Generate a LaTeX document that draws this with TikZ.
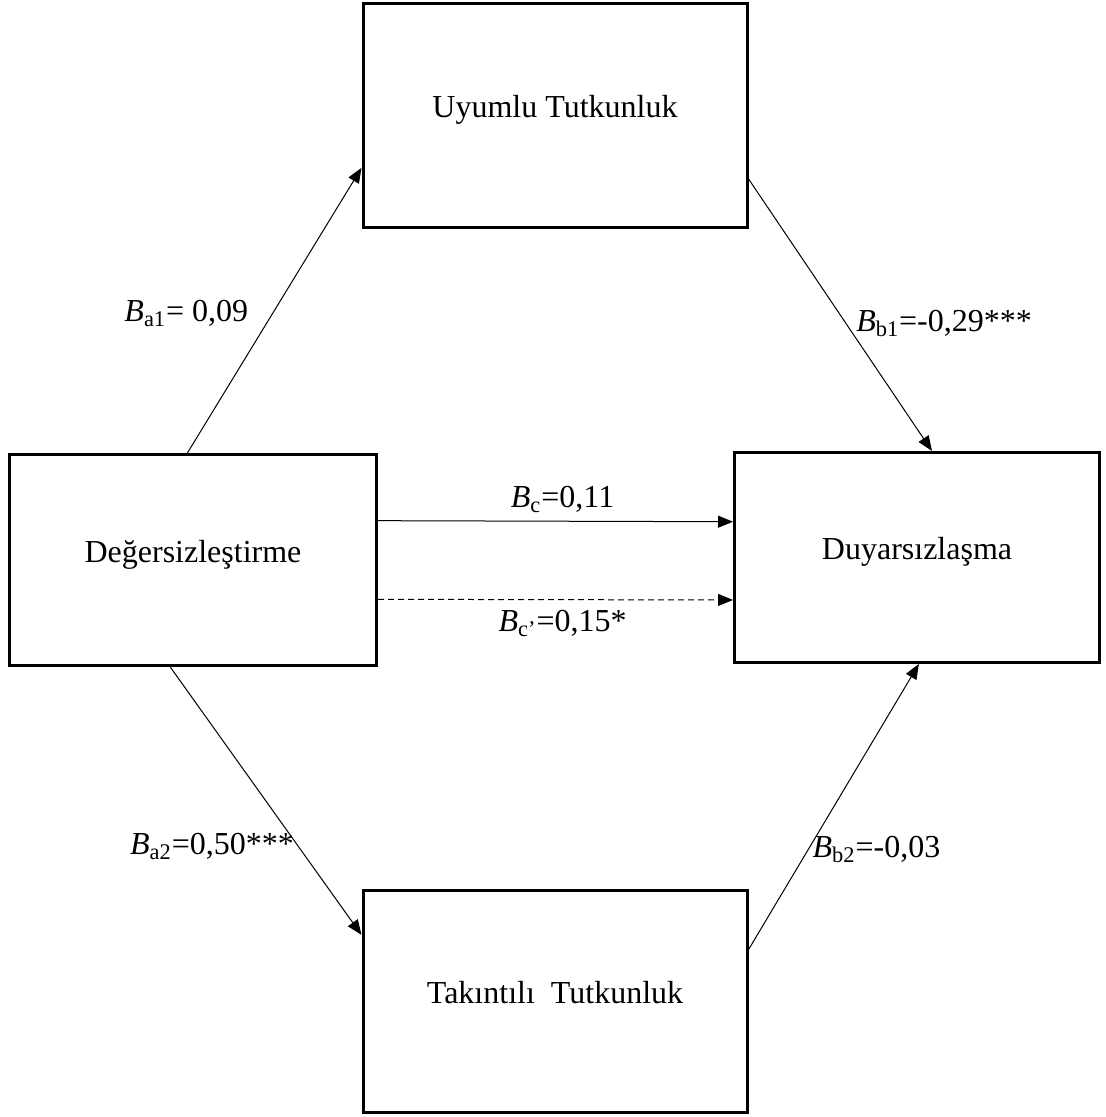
\documentclass[tikz,border=0pt]{standalone}
\usepackage{fontspec}
\setmainfont{Liberation Serif}
\usetikzlibrary{arrows.meta}

\begin{document}
\begin{tikzpicture}[x=0.5pt, y=-0.5pt,
    box/.style={draw, line width=1.5pt, font=\fontsize{16}{19}\selectfont, text height=11pt, text depth=9pt},
    link/.style={line width=0.5pt, -{Triangle[length=7.5pt, width=6pt]}},
    lbl/.style={font=\fontsize{16}{19}\selectfont, inner sep=2pt}]
      \useasboundingbox (0,0) rectangle (1105,1117);
      \node[box, minimum width=192pt, minimum height=112pt] (uyumlu) at (555,116) {Uyumlu Tutkunluk};
      \node[box, minimum width=183.5pt, minimum height=105.5pt] (deger) at (193,560) {Değersizleştirme};
      \node[box, minimum width=182.5pt, minimum height=105pt] (duyar) at (917,557.5) {Duyarsızlaşma};
      \node[box, minimum width=192pt, minimum height=111pt] (takinti) at (555,1001.5) {Takıntılı~ Tutkunluk};
      \draw[link] (deger.93.2) -- (uyumlu.195.6) node[lbl, pos=0.49, left=10pt] (ba1) {\textit{B}\textsubscript{a1}= 0,09};
      \draw[link] (uyumlu.342.2) -- (duyar.82) node[lbl, pos=0.53, right=3pt] (bb1) {\textit{B}\textsubscript{b1}=-0,29***};
      \draw[link] (deger.12.5) -- (duyar.169.1) node[lbl, pos=0.52, above=2pt] (bc) {\textit{B}\textsubscript{c}=0,11};
      \draw[link, dash pattern=on 3pt off 2pt] (deger.348.4) -- (duyar.193.3) node[lbl, pos=0.52, below=3pt] (bcc) {\textit{B}\textsubscript{c’}=0,15*};
      \draw[link] (deger.258.9) -- (takinti.161.5) node[lbl, pos=0.67, left=0pt] (ba2) {\textit{B}\textsubscript{a2}=0,50***};
      \draw[link] (takinti.15.5) -- (duyar.271.6) node[lbl, pos=0.35, right=0pt] (bb2) {\textit{B}\textsubscript{b2}=-0,03};
\end{tikzpicture}
\end{document}
